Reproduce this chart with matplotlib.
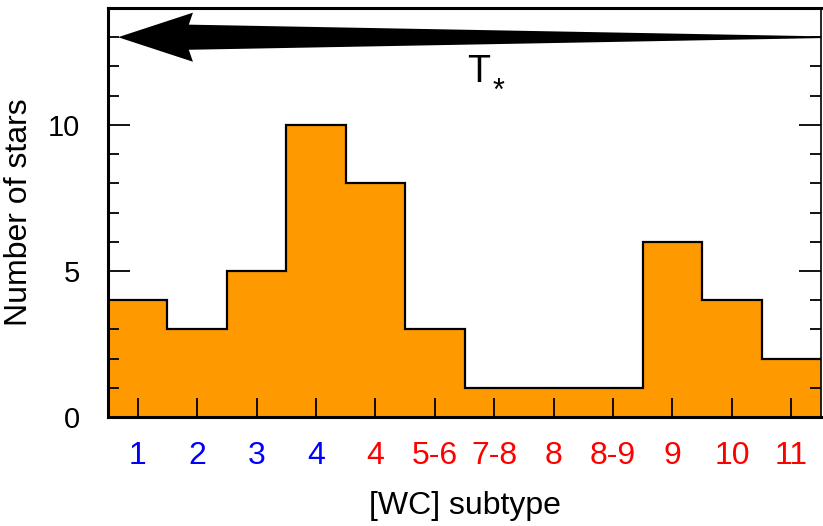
import numpy as np
import matplotlib as mpl
import matplotlib.pyplot as plt
from matplotlib.patches import Polygon

mpl.use('agg')
plt.rcParams['font.family'] = ['Liberation Sans', 'DejaVu Sans']

# histogram of [WC] subtypes
subtypes = ['1', '2', '3', '4', '4', '5-6', '7-8', '8', '8-9', '9', '10', '11']
label_colors = ['blue'] * 4 + ['red'] * 8
counts = [4, 3, 5, 10, 8, 3, 1, 1, 1, 6, 4, 2]

edges = np.arange(len(counts) + 1) - 0.5

fig = plt.figure(figsize=(8.23, 5.26), dpi=100)
ax = fig.add_axes([0.1312, 0.2072, 0.8664, 0.7776])

ax.stairs(counts, edges, fill=True, color='#ff9900', zorder=1)
ax.stairs(counts, edges, color='black', lw=1.6, baseline=None, zorder=2)

ax.set_xlim(edges[0], edges[-1])
ax.set_ylim(0, 14)

ax.set_xticks(np.arange(len(counts)))
ax.set_xticklabels(subtypes, fontsize=23)
for lab, c in zip(ax.get_xticklabels(), label_colors):
    lab.set_color(c)
ax.tick_params(axis='x', direction='in', length=14, width=1.3, pad=17)

ax.set_yticks([0, 5, 10])
ax.set_yticks(np.arange(0, 15), minor=True)
ax.tick_params(axis='y', which='major', direction='in', length=16, width=1.3,
               labelsize=21, right=True, pad=20)
ax.tick_params(axis='y', which='minor', direction='in', length=8, width=1.3, right=True)

for s in ax.spines.values():
    s.set_linewidth(2.2)
ax.spines['right'].set_linewidth(1.2)

ax.set_xlabel('[WC] subtype', fontsize=23, labelpad=15)
ax.set_ylabel('Number of stars', fontsize=23)
ax.yaxis.set_label_coords(-0.104, 0.5)

# tapered arrow pointing towards hotter stars (left)
y0 = 13
tip, head_back, tail = -0.33, 0.93, edges[-1]
head_hw, shaft_hw = 0.84, 0.43
arrow = Polygon([(tip, y0), (head_back, y0 + head_hw), (head_back - 0.07, y0 + shaft_hw),
                 (tail, y0 + 0.03), (tail, y0 - 0.03), (head_back - 0.07, y0 - shaft_hw),
                 (head_back, y0 - head_hw)], closed=True, facecolor='black',
                edgecolor='none', clip_on=False, zorder=5)
ax.add_patch(arrow)
ax.text(5.746, 11.47, 'T', fontsize=27, ha='center', va='baseline')
ax.text(6.066, 10.87, '*', fontsize=22, ha='center', va='baseline')

fig.savefig('out.png')
